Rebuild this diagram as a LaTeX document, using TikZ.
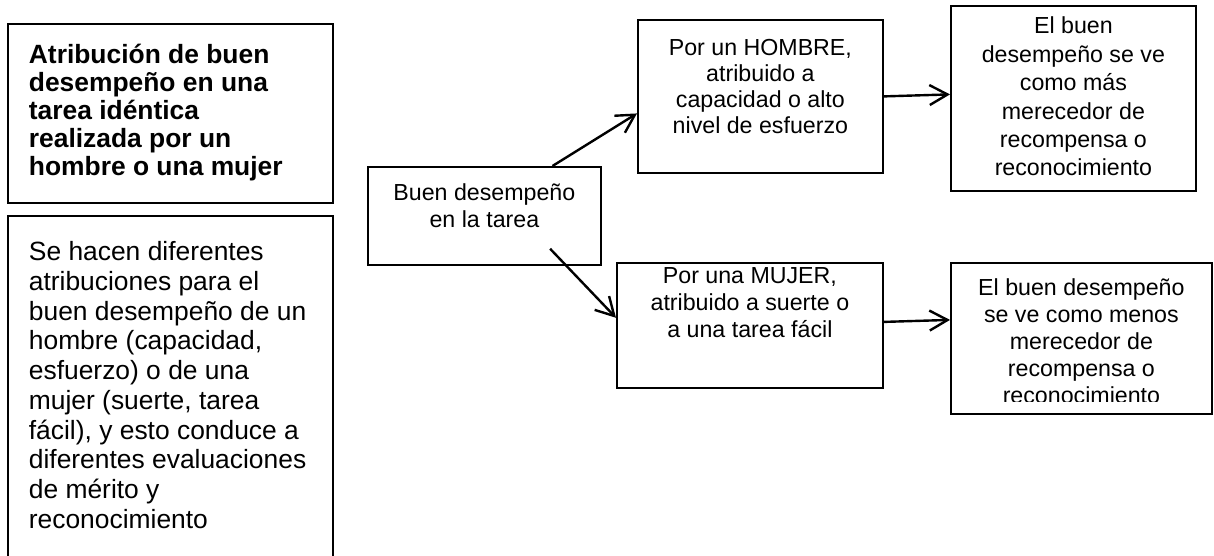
\documentclass[tikz,border=0pt]{standalone}
\usepackage{fontspec}
\setmainfont{Liberation Sans}
\usetikzlibrary{arrows.meta,calc}
\newcommand{\flowtext}[4]{\parbox[t][#1][t]{#2}{\centering\vspace*{#3}\strut #4}}
\newcommand{\sidetext}[3]{\parbox[t][#1][t]{162.5pt}{\raggedright\leftskip=10.5pt\vspace*{#2}\strut #3}}

\begin{document}
\begin{tikzpicture}[x=0.5pt, y=-0.5pt,
		side/.style={draw, line width=0.9pt, inner sep=0pt, anchor=north west,
			font=\fontsize{13.2}{#1}\selectfont},
		side/.default=14.85,
		flowbox/.style={draw, line width=0.9pt, inner sep=0pt, anchor=north west,
			font=\fontsize{11.6}{#1}\selectfont},
		flowbox/.default=13.5,
		link/.style={line width=1.2pt, -{Straight Barb[length=9pt,width=10pt]}}]
		\clip (0,0) rectangle (1214,556);
		%
		\node[side=14] (title) at (7,23) {\sidetext{89.5pt}{10.2pt}{\bfseries Atribución de buen\\desempeño en una\\tarea idéntica\\realizada por un\\hombre o una mujer}};
		\node[side] (desc) at (7,215) {\sidetext{182.5pt}{12.1pt}{Se hacen diferentes\\atribuciones para el\\buen desempeño de un\\hombre (capacidad,\\esfuerzo) o de una\\mujer (suerte, tarea\\fácil), y esto conduce a\\diferentes evaluaciones\\de mérito y\\reconocimiento}};
		%
		\node[flowbox] (task) at (367,166) {\flowtext{49pt}{116.5pt}{7.55pt}{Buen desempeño\\en la tarea}};
		\node[flowbox=13] (man) at (637,19) {\flowtext{76.5pt}{122.5pt}{8.9pt}{Por un HOMBRE,\\atribuido a\\capacidad o alto\\nivel de esfuerzo}};
		\node[flowbox=14.2] (manres) at (950,5) {\flowtext{92.5pt}{122.5pt}{4.06pt}{El buen\\desempeño se ve\\como más\\merecedor de\\recompensa o\\reconocimiento}};
		\node[flowbox] (woman) at (616,262) {\flowtext{62.5pt}{133pt}{1.05pt}{Por una MUJER,\\atribuido a suerte o\\a una tarea fácil}};
		\node[flowbox] (womanres) at (950,262) {\flowtext{75.5pt}{130.5pt}{7.05pt}{El buen desempeño\\se ve como menos\\merecedor de\\recompensa o\\reconocimiento}};
		\fill[white] ([shift={(1pt,1pt)}]womanres.south west) rectangle ([shift={(-1pt,6.5pt)}]womanres.south east);
		%
		\draw[link] ($(task.north west)!0.79!(task.north east)$) -- ($(man.north west)!0.61!(man.south west)$);
		\draw[link] ($(task.south west)!0.78!(task.south east)+(0pt,8.5pt)$) -- ($(woman.north west)!0.44!(woman.south west)$);
		\draw[link] (man.east) -- ([yshift=2pt]manres.west);
		\draw[link] ([yshift=1.75pt]woman.east) -- ([yshift=9.25pt]womanres.west);
	\end{tikzpicture}
\end{document}
